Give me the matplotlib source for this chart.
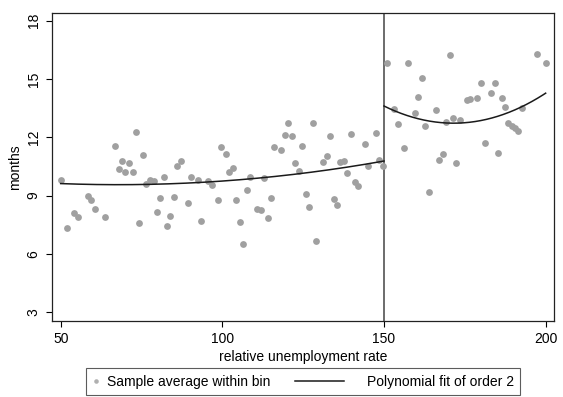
import numpy as np
from matplotlib import pyplot as plt
from matplotlib.lines import Line2D
from matplotlib.legend_handler import HandlerLine2D

plt.rcParams['font.family'] = ['Liberation Sans', 'DejaVu Sans']

# binned sample averages, left of the threshold
x_left = [50.0, 52.05, 54.1, 55.2, 58.3, 59.4, 60.5, 63.7, 66.9, 67.9, 68.95, 69.97,
          71.1, 72.3, 73.3, 74.3, 75.4, 76.4, 77.6, 78.7, 79.7, 80.7, 81.9, 82.9,
          83.9, 85.0, 86.1, 87.1, 89.3, 90.3, 92.5, 93.5, 95.7, 96.7, 98.6, 99.6,
          101.1, 102.1, 103.2, 104.3, 105.3, 106.4, 107.5, 108.6, 110.6, 111.9, 112.9, 114.0,
          115.0, 116.0, 118.2, 119.3, 120.4, 121.5, 122.5, 123.7, 124.7, 125.9, 126.9, 128.1,
          129.1, 131.2, 132.3, 133.3, 134.4, 135.6, 136.5, 137.6, 138.7, 139.8, 140.9, 142.0,
          144.1, 145.2, 147.4, 148.5, 149.8]
y_left = [9.79, 7.35, 8.09, 7.89, 8.98, 8.76, 8.33, 7.90, 11.57, 10.36, 10.78, 10.22,
          10.66, 10.22, 12.27, 7.59, 11.08, 9.62, 9.82, 9.77, 8.18, 8.86, 9.94, 7.45,
          7.95, 8.92, 10.54, 10.78, 8.64, 9.98, 9.82, 7.70, 9.77, 9.56, 8.79, 11.48,
          11.13, 10.22, 10.42, 8.79, 7.65, 6.51, 9.31, 9.94, 8.31, 8.26, 9.92, 7.85,
          8.86, 11.52, 11.37, 12.14, 12.72, 12.07, 10.68, 10.25, 11.57, 9.07, 8.42, 12.74,
          6.68, 10.73, 11.02, 12.05, 8.83, 8.50, 10.75, 10.80, 10.15, 12.19, 9.70, 9.51,
          11.64, 10.54, 12.22, 10.85, 10.53]

# binned sample averages, right of the threshold
x_right = [150.9, 153.1, 154.2, 156.3, 157.3, 159.5, 160.6, 161.7, 162.7, 163.8, 166.0, 167.0,
           168.2, 169.2, 170.3, 171.4, 172.4, 173.5, 175.7, 176.7, 178.9, 179.9, 181.1, 183.1,
           184.3, 185.3, 186.4, 187.5, 188.4, 189.6, 190.6, 191.5, 192.8, 197.2, 200.0]
y_right = [15.82, 13.47, 12.67, 11.45, 15.82, 13.25, 14.09, 15.04, 12.60, 9.20, 13.39, 10.85,
           11.13, 12.77, 16.24, 13.01, 10.70, 12.91, 13.91, 13.99, 14.01, 14.80, 11.69, 14.27,
           14.78, 11.19, 14.04, 13.56, 12.76, 12.59, 12.47, 12.35, 13.49, 16.27, 15.82]

# fitted quadratic at three points per side
fit_left_x = [50, 100, 150]
fit_left_y = [9.62, 9.75, 10.78]
fit_right_x = [150, 175, 200]
fit_right_y = [13.61, 12.75, 14.27]

cutoff = 150
y_ticks = [3, 6, 9, 12, 15, 18]
x_ticks = [50, 100, 150, 200]


class LongLine(HandlerLine2D):
    # stata-style legend key: long line sitting left of the key box
    def create_artists(self, legend, orig_handle, xdescent, ydescent,
                       width, height, fontsize, trans):
        x1 = -xdescent - 5.4
        x0 = x1 - 35.3
        y = (height - ydescent) / 2
        ln = Line2D([x0, x1], [y, y], color=orig_handle.get_color(),
                    lw=orig_handle.get_linewidth())
        ln.set_transform(trans)
        return [ln]


fig = plt.figure(figsize=(5.63, 3.97), dpi=100)
ax = fig.add_axes([0.0918, 0.1914, 0.8923, 0.7766])

pt_color = '#a0a0a0'
ax.scatter(x_left + x_right, y_left + y_right, s=24, color=pt_color, linewidths=0,
           zorder=2)

line_color = '#1a1a1a'
for fx, fy in [(fit_left_x, fit_left_y), (fit_right_x, fit_right_y)]:
    c = np.polyfit(fx, fy, 2)
    xx = np.linspace(fx[0], fx[-1], 200)
    ax.plot(xx, np.polyval(c, xx), color=line_color, lw=1.1, zorder=3)

ax.axvline(cutoff, color='#444444', lw=1.1, zorder=1)

ax.set_xlim(47.2, 202.6)
ax.set_ylim(2.55, 18.41)
ax.set_xticks(x_ticks)
ax.set_yticks(y_ticks)
ax.tick_params(axis='both', labelsize=10, direction='out', length=4.5, width=0.8, pad=3.5)
for lab in ax.get_yticklabels():
    lab.set_rotation(90)
    lab.set_va('center')
for sp in ax.spines.values():
    sp.set_linewidth(0.9)
    sp.set_color('#222222')

ax.set_xlabel('relative unemployment rate', fontsize=10, labelpad=2.5)
ax.set_ylabel('months', fontsize=10, labelpad=3)

h_pts = Line2D([], [], linestyle='none', marker='o', markersize=3.3,
               markerfacecolor='#b0b0b0', markeredgewidth=0)
h_fit = Line2D([], [], color=line_color, lw=1.1)
leg = fig.legend([h_pts, h_fit], ['Sample average within bin', 'Polynomial fit of order 2'],
                 handler_map={h_fit: LongLine()},
                 loc='center', bbox_to_anchor=(0.538, 0.039), ncol=2, fontsize=10,
                 frameon=True, fancybox=False, edgecolor='#333333',
                 handlelength=0.6, handletextpad=0.5, columnspacing=5.8, borderpad=0.45)
leg.get_frame().set_linewidth(0.8)

plt.savefig('out.png', dpi=100)
